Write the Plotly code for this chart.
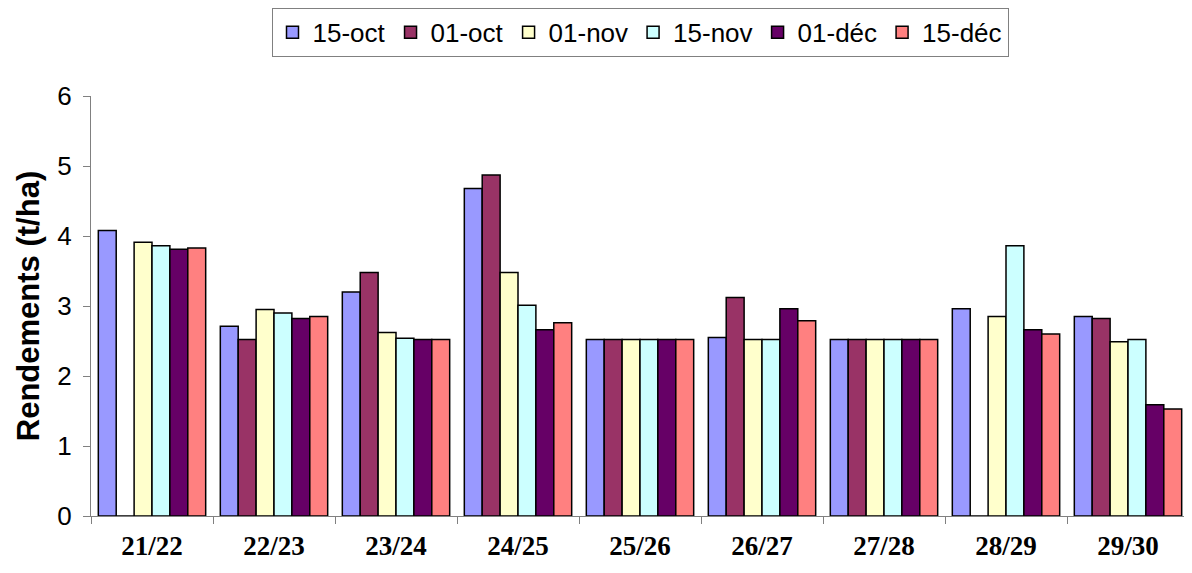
import plotly.graph_objects as go

categories = ["21/22", "22/23", "23/24", "24/25", "25/26", "26/27", "27/28", "28/29", "29/30"]
series_names = ["15-oct", "01-oct", "01-nov", "15-nov", "01-déc", "15-déc"]
oct15 = [4.08, 2.71, 3.20, 4.68, 2.52, 2.55, 2.52, 2.96, 2.85]
oct01 = [0, 2.52, 3.48, 4.87, 2.52, 3.12, 2.52, 0, 2.82]
nov01 = [3.91, 2.95, 2.62, 3.48, 2.52, 2.52, 2.52, 2.85, 2.49]
nov15 = [3.86, 2.90, 2.54, 3.01, 2.52, 2.52, 2.52, 3.86, 2.52]
dec01 = [3.81, 2.82, 2.52, 2.66, 2.52, 2.96, 2.52, 2.66, 1.59]
dec15 = [3.83, 2.85, 2.52, 2.76, 2.52, 2.79, 2.52, 2.60, 1.53]
colors = ["#9999FF", "#993366", "#FFFFCC", "#CCFFFF", "#660066", "#FF8080"]

data = [oct15, oct01, nov01, nov15, dec01, dec15]

fig = go.Figure()
for name, vals, col in zip(series_names, data, colors):
    fig.add_trace(go.Bar(
        x=categories, y=vals, name=name,
        marker=dict(color=col, line=dict(color="black", width=1.5)),
    ))

fig.update_layout(
    width=1184, height=565,
    margin=dict(l=83, r=3, t=88, b=57, autoexpand=False),
    paper_bgcolor="white", plot_bgcolor="white",
    barmode="group", bargap=0.12, bargroupgap=0,
    font=dict(family="Liberation Sans, Arial", color="black"),
    legend=dict(
        orientation="h", x=0.5, xanchor="center", y=1.21, yanchor="top",
        bordercolor="#808080", borderwidth=1,
        font=dict(size=26, family="Liberation Sans, Arial"),
        tracegroupgap=0,
    ),
    xaxis=dict(
        showline=True, linecolor="#808080", linewidth=1,
        ticks="outside", tickson="boundaries", ticklen=7, tickcolor="#808080",
        tickfont=dict(family="Liberation Serif, Times New Roman", size=27, color="black", weight="bold"),
        ticklabelstandoff=6,
        showgrid=False,
    ),
    yaxis=dict(
        range=[0, 6], dtick=1, showline=True, linecolor="#808080", linewidth=1,
        ticks="outside", ticklen=7, tickcolor="#808080",
        tickfont=dict(size=26, color="black"),
        ticklabelstandoff=6,
        showgrid=False, zeroline=False,
        title=dict(text="<b>Rendements (t/ha)</b>", font=dict(size=31), standoff=8),
    ),
)

fig.write_html("out.html")
